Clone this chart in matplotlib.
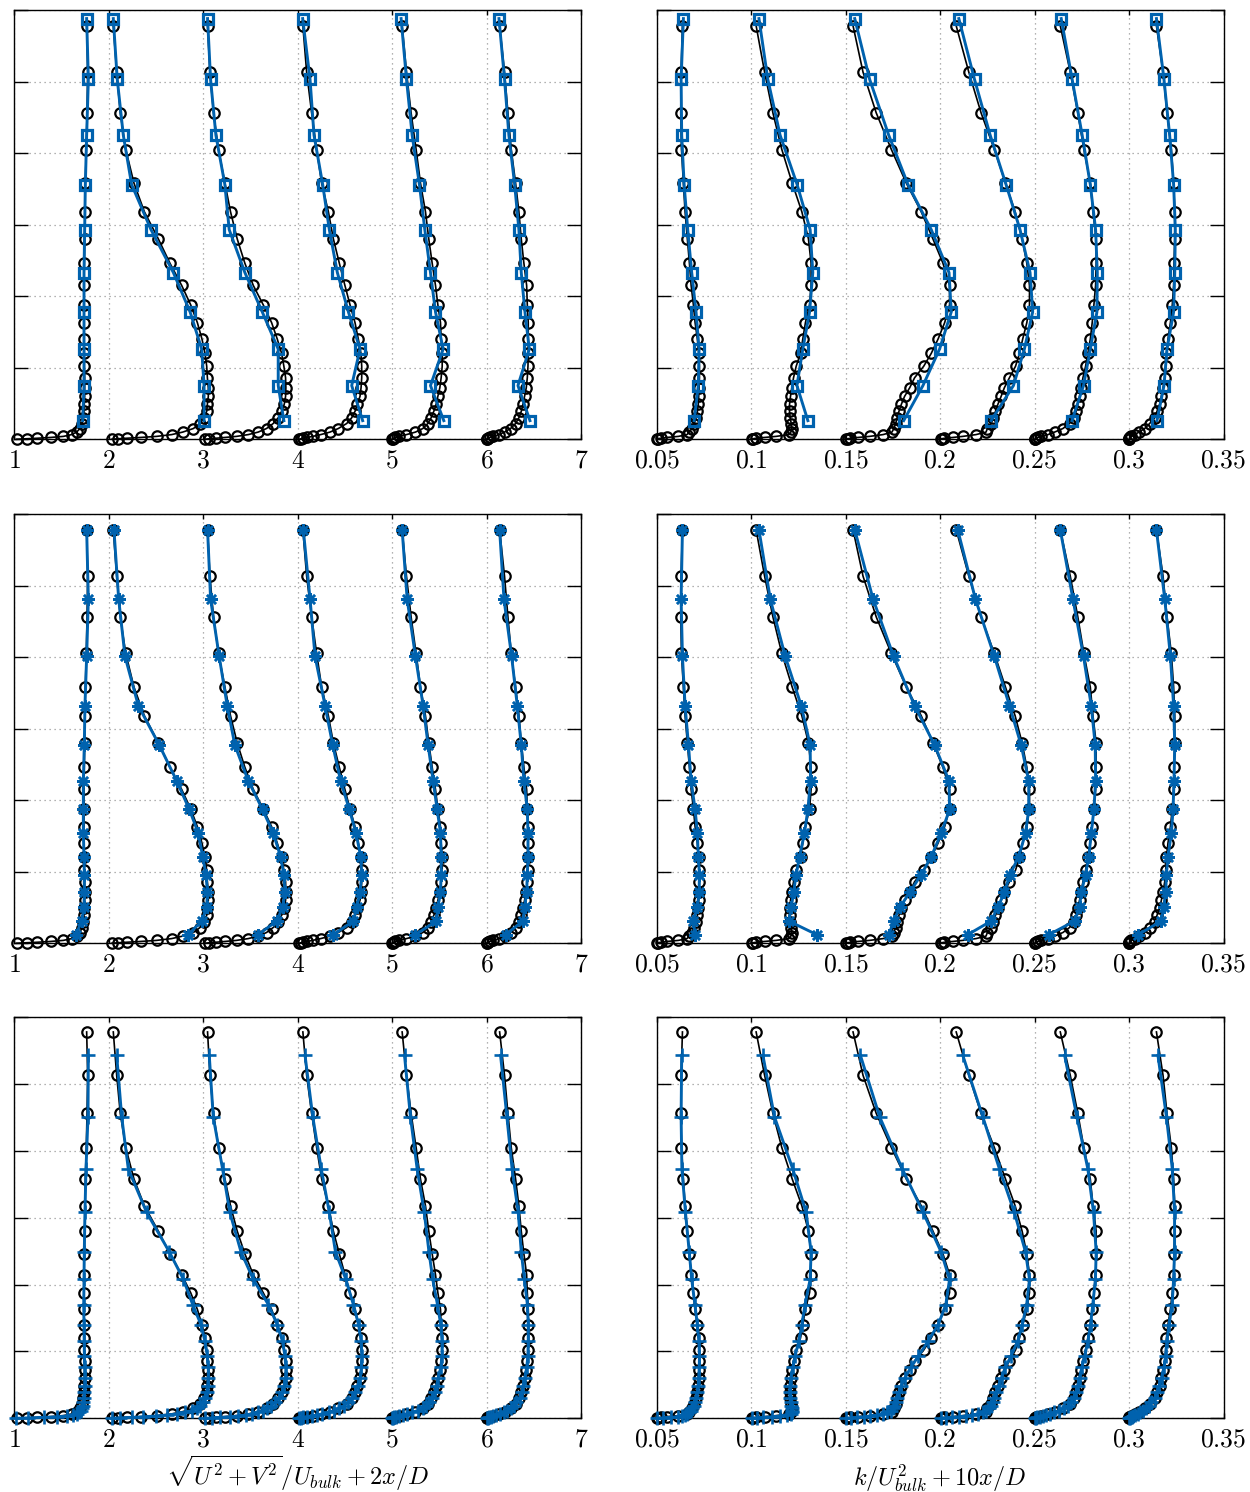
import numpy as np
import matplotlib
matplotlib.use("Agg")
import matplotlib.pyplot as plt

plt.rcParams['mathtext.fontset'] = 'cm'

# y positions of the reference (black) profiles
Y_REF = [5.78, 5.13, 4.56, 4.05, 3.58, 3.18, 2.80, 2.46, 2.15, 1.88, 1.63, 1.40, 1.20, 1.02, 0.86,
         0.72, 0.60, 0.49, 0.39, 0.30, 0.22, 0.15, 0.10, 0.065, 0.04, 0.025, 0.014, 0.007, 0.0]

# reference velocity magnitude, one list per station
U_REF = [
    [0.766, 0.777, 0.770, 0.762, 0.752, 0.748, 0.745, 0.741, 0.738, 0.738, 0.738, 0.738, 0.741, 0.741, 0.745,
     0.745, 0.745, 0.741, 0.738, 0.730, 0.717, 0.695, 0.660, 0.607, 0.520, 0.385, 0.244, 0.130, 0.025],
    [0.048, 0.084, 0.122, 0.180, 0.267, 0.377, 0.525, 0.648, 0.772, 0.867, 0.938, 0.987, 1.019, 1.037, 1.044,
     1.054, 1.054, 1.044, 1.037, 1.009, 0.966, 0.896, 0.783, 0.666, 0.507, 0.338, 0.190, 0.100, 0.030],
    [0.046, 0.071, 0.109, 0.162, 0.230, 0.289, 0.360, 0.441, 0.530, 0.635, 0.724, 0.784, 0.830, 0.854, 0.872,
     0.875, 0.872, 0.858, 0.830, 0.794, 0.741, 0.670, 0.582, 0.477, 0.353, 0.230, 0.134, 0.064, 0.018],
    [0.055, 0.095, 0.148, 0.201, 0.254, 0.325, 0.378, 0.441, 0.500, 0.554, 0.607, 0.642, 0.670, 0.678, 0.678,
     0.671, 0.660, 0.632, 0.607, 0.572, 0.519, 0.430, 0.342, 0.244, 0.159, 0.100, 0.060, 0.035, 0.015],
    [0.106, 0.152, 0.201, 0.254, 0.300, 0.353, 0.388, 0.424, 0.459, 0.484, 0.512, 0.519, 0.530, 0.530, 0.519,
     0.505, 0.484, 0.466, 0.441, 0.413, 0.378, 0.325, 0.247, 0.152, 0.071, 0.035, 0.018, 0.007, 0.0],
    [0.138, 0.190, 0.226, 0.261, 0.307, 0.342, 0.367, 0.395, 0.424, 0.431, 0.441, 0.441, 0.441, 0.438, 0.431,
     0.420, 0.402, 0.385, 0.367, 0.342, 0.307, 0.254, 0.190, 0.131, 0.071, 0.035, 0.014, 0.005, 0.0],
]

# reference turbulent kinetic energy
K_REF = [
    [0.0136, 0.0129, 0.0127, 0.0131, 0.0141, 0.0150, 0.0162, 0.0173, 0.0182, 0.0194, 0.0203, 0.0215, 0.0222,
     0.0226, 0.0226, 0.0224, 0.0222, 0.0220, 0.0215, 0.0208, 0.0198, 0.0185, 0.0172, 0.0160, 0.0115, 0.0053,
     0.0020, 0.0008, 0.0002],
    [0.0026, 0.0071, 0.0115, 0.0162, 0.0217, 0.0268, 0.0303, 0.0317, 0.0317, 0.0309, 0.0287, 0.0273, 0.0261,
     0.0238, 0.0224, 0.0215, 0.0208, 0.0203, 0.0203, 0.0206, 0.0212, 0.0215, 0.0210, 0.0200, 0.0132, 0.0071,
     0.0025, 0.0010, 0.0002],
    [0.0039, 0.0092, 0.0162, 0.0242, 0.0321, 0.0400, 0.0462, 0.0515, 0.0550, 0.0550, 0.0524, 0.0489, 0.0453,
     0.0413, 0.0365, 0.0339, 0.0312, 0.0295, 0.0282, 0.0272, 0.0265, 0.0255, 0.0245, 0.0198, 0.0127, 0.0065,
     0.0025, 0.0010, 0.0002],
    [0.0085, 0.0152, 0.0217, 0.0287, 0.0346, 0.0397, 0.0434, 0.0459, 0.0473, 0.0473, 0.0459, 0.0437, 0.0420,
     0.0399, 0.0367, 0.0340, 0.0323, 0.0306, 0.0293, 0.0282, 0.0270, 0.0250, 0.0243, 0.0190, 0.0120, 0.0067,
     0.0023, 0.0008, 0.0002],
    [0.0136, 0.0189, 0.0229, 0.0261, 0.0295, 0.0309, 0.0326, 0.0326, 0.0323, 0.0314, 0.0305, 0.0295, 0.0282,
     0.0270, 0.0256, 0.0247, 0.0238, 0.0229, 0.0220, 0.0206, 0.0185, 0.0150, 0.0106, 0.0071, 0.0035, 0.0018,
     0.0009, 0.0004, 0.0001],
    [0.0145, 0.0180, 0.0201, 0.0224, 0.0236, 0.0242, 0.0242, 0.0238, 0.0236, 0.0229, 0.0219, 0.0206, 0.0198,
     0.0194, 0.0189, 0.0180, 0.0171, 0.0162, 0.0148, 0.0136, 0.0109, 0.0083, 0.0053, 0.0030, 0.0012, 0.0005,
     0.0002, 0.0001, 0.0],
]

# model 1 (squares)
Y_M1 = [5.88, 5.03, 4.25, 3.56, 2.93, 2.33, 1.78, 1.26, 0.75, 0.26]
U_M1 = [
    [0.766, 0.784, 0.766, 0.752, 0.745, 0.738, 0.738, 0.738, 0.738, 0.724],
    [0.048, 0.090, 0.154, 0.242, 0.447, 0.684, 0.861, 0.984, 1.009, 1.009],
    [0.046, 0.078, 0.134, 0.229, 0.275, 0.441, 0.625, 0.794, 0.794, 0.854],
    [0.053, 0.131, 0.173, 0.265, 0.335, 0.420, 0.537, 0.660, 0.572, 0.688],
    [0.095, 0.152, 0.212, 0.289, 0.346, 0.406, 0.459, 0.540, 0.406, 0.547],
    [0.131, 0.190, 0.236, 0.297, 0.342, 0.367, 0.406, 0.452, 0.332, 0.459],
]
K_M1 = [
    [0.0141, 0.0129, 0.0132, 0.0145, 0.0164, 0.0185, 0.0208, 0.0224, 0.0220, 0.0198],
    [0.0041, 0.0088, 0.0153, 0.0243, 0.0312, 0.0326, 0.0309, 0.0273, 0.0242, 0.0300],
    [0.0048, 0.0127, 0.0228, 0.0330, 0.0453, 0.0547, 0.0559, 0.0497, 0.0409, 0.0307],
    [0.0099, 0.0182, 0.0265, 0.0349, 0.0423, 0.0476, 0.0490, 0.0446, 0.0388, 0.0270],
    [0.0141, 0.0199, 0.0252, 0.0295, 0.0323, 0.0332, 0.0330, 0.0295, 0.0259, 0.0198],
    [0.0145, 0.0185, 0.0215, 0.0236, 0.0245, 0.0242, 0.0236, 0.0201, 0.0185, 0.0148],
]

# model 2 (asterisks)
Y_M2 = [5.78, 4.81, 4.01, 3.32, 2.77, 2.27, 1.87, 1.54, 1.21, 0.96, 0.71, 0.50, 0.31, 0.12]
U_M2 = [
    [0.766, 0.784, 0.766, 0.748, 0.741, 0.731, 0.731, 0.731, 0.738, 0.741, 0.741, 0.738, 0.713, 0.653],
    [0.055, 0.105, 0.172, 0.313, 0.535, 0.719, 0.853, 0.948, 0.994, 1.030, 1.044, 1.037, 0.984, 0.842],
    [0.046, 0.078, 0.169, 0.254, 0.335, 0.477, 0.628, 0.741, 0.819, 0.854, 0.865, 0.840, 0.777, 0.582],
    [0.060, 0.131, 0.184, 0.290, 0.371, 0.455, 0.547, 0.618, 0.667, 0.678, 0.660, 0.625, 0.590, 0.378],
    [0.106, 0.159, 0.247, 0.328, 0.381, 0.434, 0.477, 0.512, 0.519, 0.519, 0.512, 0.484, 0.469, 0.247],
    [0.138, 0.184, 0.265, 0.325, 0.367, 0.395, 0.431, 0.438, 0.438, 0.431, 0.424, 0.402, 0.385, 0.201],
]
K_M2 = [
    [0.0136, 0.0129, 0.0136, 0.0150, 0.0168, 0.0182, 0.0203, 0.0215, 0.0220, 0.0226, 0.0224, 0.0215, 0.0194, 0.0203],
    [0.0041, 0.0101, 0.0180, 0.0265, 0.0312, 0.0314, 0.0300, 0.0282, 0.0256, 0.0238, 0.0224, 0.0212, 0.0199, 0.0347],
    [0.0048, 0.0145, 0.0254, 0.0365, 0.0471, 0.0547, 0.0550, 0.0506, 0.0453, 0.0400, 0.0339, 0.0286, 0.0254, 0.0229],
    [0.0093, 0.0187, 0.0287, 0.0367, 0.0429, 0.0469, 0.0469, 0.0452, 0.0416, 0.0370, 0.0340, 0.0305, 0.0270, 0.0146],
    [0.0136, 0.0203, 0.0259, 0.0300, 0.0321, 0.0323, 0.0314, 0.0300, 0.0287, 0.0270, 0.0247, 0.0238, 0.0212, 0.0076],
    [0.0145, 0.0189, 0.0219, 0.0236, 0.0242, 0.0238, 0.0233, 0.0224, 0.0206, 0.0198, 0.0194, 0.0183, 0.0171, 0.0048],
]

# model 3 (plus signs), wall-refined
Y_M3 = [5.43, 4.51, 3.73, 3.08, 2.49, 2.08, 1.70, 1.40, 1.15, 0.93, 0.76, 0.61, 0.49, 0.39, 0.31, 0.24, 0.19,
        0.15, 0.115, 0.088, 0.066, 0.048, 0.034, 0.022, 0.013, 0.006, 0.0]
U_M3 = [
    [0.784, 0.780, 0.759, 0.748, 0.741, 0.738, 0.735, 0.738, 0.740, 0.742, 0.745, 0.746, 0.745, 0.742, 0.738,
     0.732, 0.726, 0.718, 0.706, 0.690, 0.665, 0.625, 0.560, 0.450, 0.310, 0.150, 0.020],
    [0.084, 0.137, 0.207, 0.401, 0.641, 0.790, 0.889, 0.977, 1.019, 1.044, 1.054, 1.054, 1.047, 1.037, 1.019,
     0.994, 0.966, 0.931, 0.878, 0.807, 0.719, 0.613, 0.500, 0.366, 0.243, 0.119, 0.030],
    [0.064, 0.106, 0.205, 0.282, 0.400, 0.530, 0.690, 0.784, 0.840, 0.866, 0.875, 0.872, 0.858, 0.834, 0.800,
     0.760, 0.720, 0.680, 0.630, 0.580, 0.520, 0.450, 0.370, 0.280, 0.180, 0.090, 0.020],
    [0.078, 0.160, 0.250, 0.335, 0.400, 0.510, 0.590, 0.645, 0.672, 0.678, 0.675, 0.662, 0.635, 0.605, 0.575,
     0.535, 0.490, 0.440, 0.385, 0.330, 0.260, 0.200, 0.150, 0.100, 0.060, 0.030, 0.010],
    [0.131, 0.194, 0.265, 0.340, 0.390, 0.430, 0.480, 0.515, 0.528, 0.528, 0.515, 0.490, 0.470, 0.450, 0.425,
     0.390, 0.360, 0.330, 0.270, 0.210, 0.160, 0.110, 0.075, 0.045, 0.025, 0.010, 0.0],
    [0.148, 0.215, 0.270, 0.335, 0.367, 0.400, 0.432, 0.441, 0.441, 0.437, 0.425, 0.405, 0.387, 0.370, 0.350,
     0.315, 0.285, 0.255, 0.220, 0.185, 0.140, 0.100, 0.070, 0.045, 0.025, 0.010, 0.0],
]
K_M3 = [
    [0.0132, 0.0129, 0.0133, 0.0152, 0.0172, 0.0185, 0.0202, 0.0215, 0.0223, 0.0226, 0.0225, 0.0222, 0.0219,
     0.0215, 0.0210, 0.0203, 0.0196, 0.0188, 0.0180, 0.0172, 0.0162, 0.0150, 0.0133, 0.0110, 0.0075, 0.0035, 0.0003],
    [0.0062, 0.0123, 0.0220, 0.0291, 0.0317, 0.0312, 0.0285, 0.0268, 0.0252, 0.0232, 0.0220, 0.0210, 0.0205,
     0.0203, 0.0205, 0.0208, 0.0212, 0.0215, 0.0218, 0.0218, 0.0212, 0.0190, 0.0155, 0.0110, 0.0065, 0.0030, 0.0003],
    [0.0078, 0.0180, 0.0300, 0.0410, 0.0505, 0.0550, 0.0530, 0.0490, 0.0435, 0.0385, 0.0345, 0.0315, 0.0295,
     0.0282, 0.0273, 0.0265, 0.0258, 0.0250, 0.0238, 0.0220, 0.0195, 0.0165, 0.0130, 0.0095, 0.0060, 0.0030, 0.0003],
    [0.0120, 0.0226, 0.0314, 0.0393, 0.0452, 0.0473, 0.0458, 0.0435, 0.0410, 0.0375, 0.0345, 0.0325, 0.0310,
     0.0297, 0.0287, 0.0278, 0.0270, 0.0260, 0.0245, 0.0225, 0.0200, 0.0170, 0.0135, 0.0098, 0.0062, 0.0030, 0.0003],
    [0.0159, 0.0224, 0.0282, 0.0312, 0.0326, 0.0322, 0.0308, 0.0296, 0.0282, 0.0265, 0.0250, 0.0238, 0.0228,
     0.0218, 0.0207, 0.0193, 0.0175, 0.0155, 0.0128, 0.0105, 0.0082, 0.0060, 0.0042, 0.0027, 0.0015, 0.0006, 0.0],
    [0.0153, 0.0198, 0.0229, 0.0241, 0.0241, 0.0236, 0.0228, 0.0212, 0.0200, 0.0193, 0.0185, 0.0172, 0.0160,
     0.0148, 0.0136, 0.0118, 0.0103, 0.0088, 0.0072, 0.0058, 0.0045, 0.0033, 0.0023, 0.0014, 0.0008, 0.0003, 0.0],
]

U_OFFSETS = [1, 2, 3, 4, 5, 6]            # 2x/D
K_OFFSETS = [0.05, 0.10, 0.15, 0.20, 0.25, 0.30]  # 10x/D
U_TICKS = [1, 2, 3, 4, 5, 6, 7]
K_TICKS = [0.05, 0.1, 0.15, 0.2, 0.25, 0.3, 0.35]
U_LABEL = r'$\sqrt{U^2+V^2}/U_{bulk}+2x/D$'
K_LABEL = r'$k/U_{bulk}^2+10x/D$'

BLUE = '#0062AE'
FS = 18.5

models = [
    (Y_M1, U_M1, K_M1, dict(marker='s', ms=7, mew=2.3)),
    (Y_M2, U_M2, K_M2, dict(marker=(8, 2, 0), ms=9, mew=1.8)),
    (Y_M3, U_M3, K_M3, dict(marker='+', ms=9.5, mew=1.9)),
]

fig = plt.figure(figsize=(12.5, 14.92), dpi=100)
rows = [(0.7056, 0.2877), (0.3678, 0.2877), (0.0494, 0.2688)]
cols = [0.01144, 0.5254]
width = 0.4534


def style_axes(ax, ticks, lim):
    ax.set_xlim(*lim)
    ax.set_ylim(0, 6)
    ax.set_xticks(ticks)
    ax.set_xticklabels(['$%g$' % t for t in ticks])
    ax.set_yticks(range(0, 7))
    ax.tick_params(direction='in', top=True, right=True, labelsize=FS, pad=6, width=1.0)
    ax.tick_params(axis='y', length=10, labelleft=False)
    ax.tick_params(axis='x', length=3.5)
    ax.grid(True, ls=(0, (1, 3)), color='0.6', lw=0.9)
    ax.set_axisbelow(True)
    for s in ax.spines.values():
        s.set_linewidth(1.0)


for r, (bottom, height) in enumerate(rows):
    y_m, u_m, k_m, mk = models[r]
    axu = fig.add_axes([cols[0], bottom, width, height])
    axk = fig.add_axes([cols[1], bottom, width, height])
    for i in range(6):
        axu.plot(U_OFFSETS[i] + np.array(U_REF[i]), Y_REF, '-o', color='k', ms=7.5, mfc='none',
                 mew=1.6, lw=1.2, clip_on=False, zorder=3)
        axu.plot(U_OFFSETS[i] + np.array(u_m[i]), y_m, '-', color=BLUE, mfc='none', mec=BLUE,
                 lw=2.1, clip_on=False, zorder=4, **mk)
        axk.plot(K_OFFSETS[i] + np.array(K_REF[i]), Y_REF, '-o', color='k', ms=7.5, mfc='none',
                 mew=1.6, lw=1.2, clip_on=False, zorder=3)
        axk.plot(K_OFFSETS[i] + np.array(k_m[i]), y_m, '-', color=BLUE, mfc='none', mec=BLUE,
                 lw=2.1, clip_on=False, zorder=4, **mk)
    style_axes(axu, U_TICKS, (1, 7))
    style_axes(axk, K_TICKS, (0.05, 0.35))

# axis titles under the bottom row, on a common baseline
fig.text(0.238, 0.0045, U_LABEL, fontsize=17.5, ha='center', va='baseline')
fig.text(0.752, 0.0045, K_LABEL, fontsize=17.5, ha='center', va='baseline')

fig.savefig('out.png', dpi=100)
